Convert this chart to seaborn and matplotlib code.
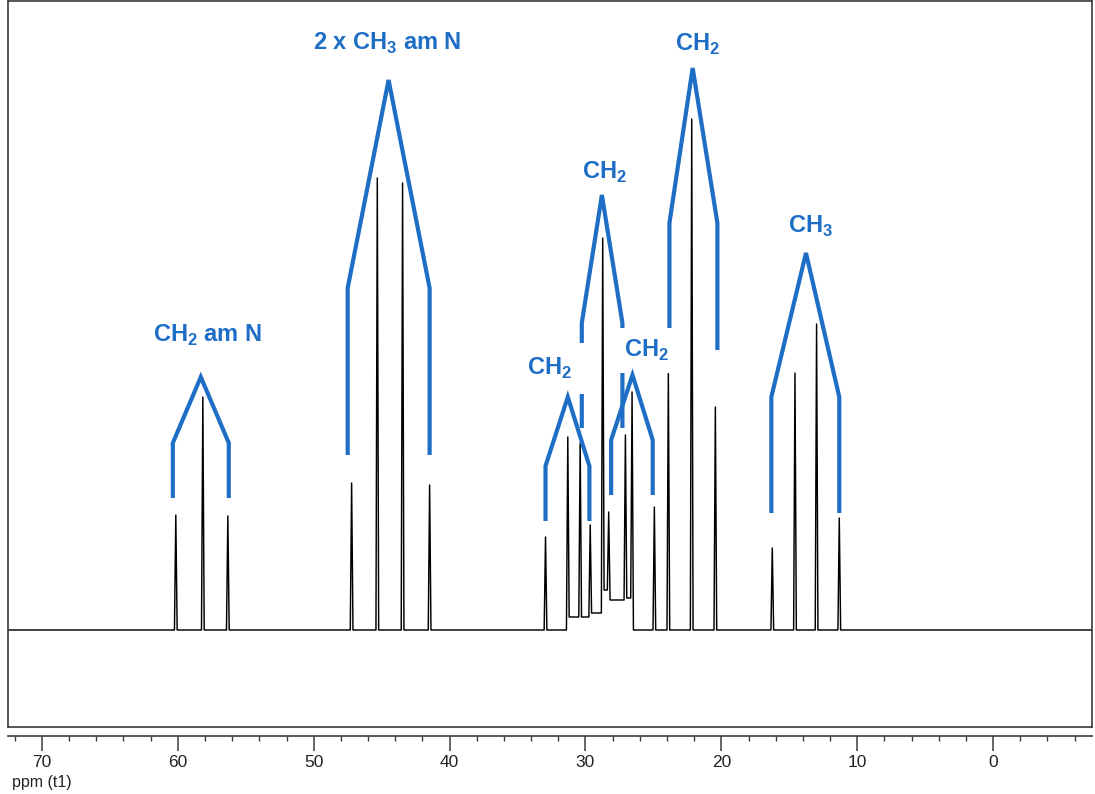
import matplotlib
matplotlib.use("Agg")
import matplotlib.pyplot as plt
from matplotlib.ticker import MultipleLocator
import pandas as pd
import seaborn as sns

# ---------------- data ----------------
peak_ppm = [60.15, 58.16, 56.32, 47.21, 45.32, 43.46, 41.47, 32.94, 31.30, 30.39,
            29.65, 28.73, 28.29, 27.06, 26.57, 24.93, 23.90, 22.18, 20.44, 16.25,
            14.58, 12.99, 11.32]
peak_int = [115, 233, 114, 147, 452, 447, 145, 93, 193, 187,
            105, 392, 118, 195, 238, 123, 258, 511, 223, 82,
            257, 306, 112]
# raised valleys between overlapping lines
valley_ppm = [30.85, 30.02, 29.19, 28.49, 27.72, 26.84]
valley_int = [13, 13, 17, 40, 30, 32]

# multiplet annotation trees
group_labels = [r"CH$_\mathregular{2}$ am N", r"2 x CH$_\mathregular{3}$ am N",
                r"CH$_\mathregular{2}$", r"CH$_\mathregular{2}$", r"CH$_\mathregular{2}$",
                r"CH$_\mathregular{2}$", r"CH$_\mathregular{3}$"]
leg_left_ppm = [60.37, 47.50, 32.94, 30.27, 28.11, 23.82, 16.32]
leg_right_ppm = [56.25, 41.47, 29.71, 27.28, 25.05, 20.29, 11.32]
foot_left_int = [132, 175, 109, 202, 135, 280, 117]
foot_right_int = [132, 175, 109, 202, 135, 280, 117]
corner_int = [187, 342, 164, 307, 190, 407, 233]
apex_ppm = [58.31, 44.49, 31.30, 28.79, 26.54, 22.11, 13.77]
apex_int = [253, 550, 233, 435, 255, 562, 377]
label_ppm = [57.80, 44.56, 32.65, 28.60, 25.48, 21.73, 13.44]
label_int = [288, 580, 255, 451, 273, 579, 397]

x_ticks_major = 10
x_ticks_minor = 2
x_left, x_right = 72.5, -7.28
y_low, y_high = -97, 629

# ---------------- style ----------------
sns.set_theme(style="white")
plt.rcParams["font.family"] = ["Liberation Sans", "DejaVu Sans"]

BLUE = "#1E6EC6"
FOOT = 0.1
label_pad = [4, 4, 9, 4, 7, 4, 4]          # white box padding per label (pt)
draw_order = [0, 1, 5, 3, 2, 4, 6]         # later groups are drawn on top

# build spectrum trace from peaks and valleys
peaks = sorted(zip(peak_ppm, peak_int), key=lambda t: -t[0])
valleys = list(zip(valley_ppm, valley_int))


def valley_between(hi, lo):
    for v, vi in valleys:
        if hi > v > lo:
            return v, vi
    return None


xs, ys = [x_left], [0]
for i, (p, h) in enumerate(peaks):
    prev = peaks[i - 1][0] if i > 0 else None
    nxt = peaks[i + 1][0] if i + 1 < len(peaks) else None
    vl = valley_between(prev, p) if prev is not None else None
    vr = valley_between(p, nxt) if nxt is not None else None
    xs.append(p + FOOT); ys.append(vl[1] if vl else 0)
    xs.append(p); ys.append(h)
    xs.append(p - FOOT); ys.append(vr[1] if vr else 0)
    if vr:
        xs.append(vr[0]); ys.append(vr[1])
xs.append(x_right); ys.append(0)
trace = pd.DataFrame({"ppm": xs, "intensity": ys})

W, H = 1095, 794
fig = plt.figure(figsize=(W / 100, H / 100), dpi=100)
fig.patch.set_facecolor("white")

L = 8 / W
Wd = (1092 - 8) / W
ax = fig.add_axes([L, (H - 727) / H, Wd, (727 - 1) / H])
sns.lineplot(data=trace, x="ppm", y="intensity", sort=False, estimator=None,
             color="black", lw=1.05, ax=ax, zorder=2)
ax.set_xlim(x_left, x_right)
ax.set_ylim(y_low, y_high)
ax.set_xticks([]); ax.set_yticks([])
ax.set_xlabel(""); ax.set_ylabel("")
for s in ax.spines.values():
    s.set_visible(True)
    s.set_color("#3a3a3a")
    s.set_linewidth(1.2)

# annotation trees (label box first, then its tree on top)
for k, i in enumerate(draw_order):
    z = 3 + 2 * k
    ax.text(label_ppm[i], label_int[i], group_labels[i], color=BLUE,
            fontsize=17, fontweight="bold", ha="center", va="baseline",
            family="Liberation Sans", zorder=z,
            bbox=dict(facecolor="white", edgecolor="none", pad=label_pad[i]))
    px = [leg_left_ppm[i], leg_left_ppm[i], apex_ppm[i], leg_right_ppm[i], leg_right_ppm[i]]
    py = [foot_left_int[i], corner_int[i], apex_int[i], corner_int[i], foot_right_int[i]]
    ax.plot(px, py, color=BLUE, lw=3.0, solid_joinstyle="miter",
            solid_capstyle="butt", zorder=z + 1)

# separate ppm scale below the box
axs = fig.add_axes([L, (H - 736) / H, Wd, 0.0001])
axs.set_xlim(x_left, x_right)
axs.set_yticks([])
for k in ["left", "right", "top"]:
    axs.spines[k].set_visible(False)
axs.spines["bottom"].set_color("#3a3a3a")
axs.spines["bottom"].set_linewidth(1.2)
axs.xaxis.set_major_locator(MultipleLocator(x_ticks_major))
axs.xaxis.set_minor_locator(MultipleLocator(x_ticks_minor))
axs.tick_params(axis="x", which="major", direction="out", length=10.5, width=1.1,
                color="#3a3a3a", labelsize=12.5, pad=3, labelcolor="#222222", bottom=True)
axs.tick_params(axis="x", which="minor", direction="out", length=3.6, width=1.0,
                color="#3a3a3a", bottom=True)
axs.set_facecolor("none")

fig.text(12 / W, (H - 787) / H, "ppm (t1)", fontsize=11.5, color="#222222",
         ha="left", va="baseline")

fig.savefig("out.png", dpi=100, facecolor="white")
